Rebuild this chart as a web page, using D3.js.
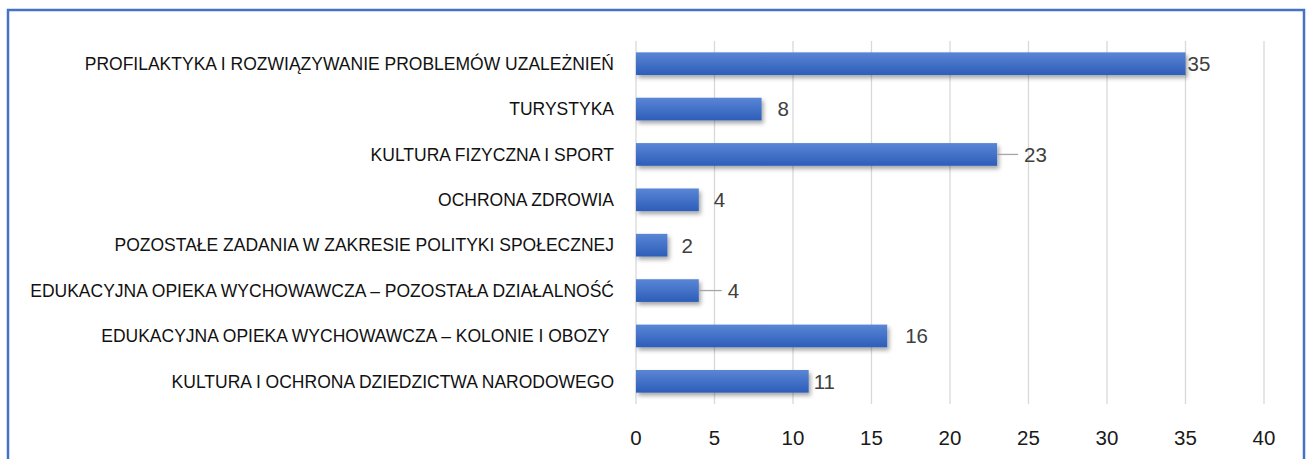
<!DOCTYPE html>
<html>
<head>
<meta charset="UTF-8">
<style>
body { margin: 0; background: #fff; }
svg text { font-family: 'Liberation Sans', Arial, sans-serif; }
</style>
</head>
<body>
<svg id="chart"></svg>
<script src="https://d3js.org/d3.v7.min.js"></script>
<script>
// data
const categories = [
  "PROFILAKTYKA I ROZWIĄZYWANIE PROBLEMÓW UZALEŻNIEŃ",
  "TURYSTYKA",
  "KULTURA FIZYCZNA I SPORT",
  "OCHRONA ZDROWIA",
  "POZOSTAŁE ZADANIA W ZAKRESIE POLITYKI SPOŁECZNEJ",
  "EDUKACYJNA OPIEKA WYCHOWAWCZA – POZOSTAŁA DZIAŁALNOŚĆ",
  "EDUKACYJNA OPIEKA WYCHOWAWCZA – KOLONIE I OBOZY ",
  "KULTURA I OCHRONA DZIEDZICTWA NARODOWEGO"
];
const values = [35, 8, 23, 4, 2, 4, 16, 11];
const ticks = [0, 5, 10, 15, 20, 25, 30, 35, 40];
// label offsets (px) past the bar end, and which labels have a leader line
const labelGap = [2, 16, 27, 15, 14, 29, 18, 5];
const leader = [false, false, true, false, false, true, false, false];

const width = 1308, height = 459;
const svg = d3.select("#chart").attr("width", width).attr("height", height);

// frame
svg.append("path")
  .attr("d", "M8,470 L8,10 L1304,10 L1304,470")
  .attr("fill", "none")
  .attr("stroke", "#4472c4")
  .attr("stroke-width", 2.5);

const x = d3.scaleLinear().domain([0, 40]).range([636, 1264]);
const y = d3.scaleBand().domain(categories).range([41, 404])
  .paddingInner(0.5).paddingOuter(0.25);

const defs = svg.append("defs");
const grad = defs.append("linearGradient").attr("id", "barGrad")
  .attr("x1", 0).attr("y1", 0).attr("x2", 0).attr("y2", 1);
grad.append("stop").attr("offset", "0%").attr("stop-color", "#5a86d6");
grad.append("stop").attr("offset", "100%").attr("stop-color", "#2d5db8");

const shadow = defs.append("filter").attr("id", "shadow")
  .attr("x", "-10%").attr("y", "-50%").attr("width", "130%").attr("height", "200%");
shadow.append("feDropShadow")
  .attr("dx", 2).attr("dy", 3).attr("stdDeviation", 2.2)
  .attr("flood-color", "#000").attr("flood-opacity", 0.35);

// gridlines
svg.append("g").selectAll("line")
  .data(ticks)
  .join("line")
  .attr("x1", d => x(d)).attr("x2", d => x(d))
  .attr("y1", 41).attr("y2", 404)
  .attr("stroke", "#d9d9d9")
  .attr("stroke-width", 1.3);

// x tick labels
svg.append("g").selectAll("text")
  .data(ticks)
  .join("text")
  .attr("x", d => x(d))
  .attr("y", 445)
  .attr("text-anchor", "middle")
  .attr("font-size", 20.5)
  .attr("fill", "#1a1a1a")
  .text(d => d);

// bars
svg.append("g").selectAll("rect")
  .data(values)
  .join("rect")
  .attr("x", x(0))
  .attr("y", (d, i) => y(categories[i]))
  .attr("width", d => x(d) - x(0))
  .attr("height", y.bandwidth())
  .attr("fill", "url(#barGrad)")
  .attr("filter", "url(#shadow)");

// category labels
svg.append("g").selectAll("text")
  .data(categories)
  .join("text")
  .attr("x", 614)
  .attr("y", d => y(d) + y.bandwidth() / 2)
  .attr("dy", "0.36em")
  .attr("text-anchor", "end")
  .attr("font-size", 17.5)
  .attr("fill", "#111")
  .style("white-space", "pre")
  .text(d => d);

// leader lines
svg.append("g").selectAll("line")
  .data(values.map((v, i) => ({v, i})).filter(d => leader[d.i]))
  .join("line")
  .attr("x1", d => x(d.v))
  .attr("x2", d => x(d.v) + labelGap[d.i] - 6)
  .attr("y1", d => y(categories[d.i]) + y.bandwidth() / 2)
  .attr("y2", d => y(categories[d.i]) + y.bandwidth() / 2)
  .attr("stroke", "#a6a6a6")
  .attr("stroke-width", 1.3);

// value labels
svg.append("g").selectAll("text")
  .data(values)
  .join("text")
  .attr("x", (d, i) => x(d) + labelGap[i])
  .attr("y", (d, i) => y(categories[i]) + y.bandwidth() / 2)
  .attr("dy", "0.36em")
  .attr("font-size", 20.5)
  .attr("fill", "#404040")
  .text(d => d);
</script>
</body>
</html>
